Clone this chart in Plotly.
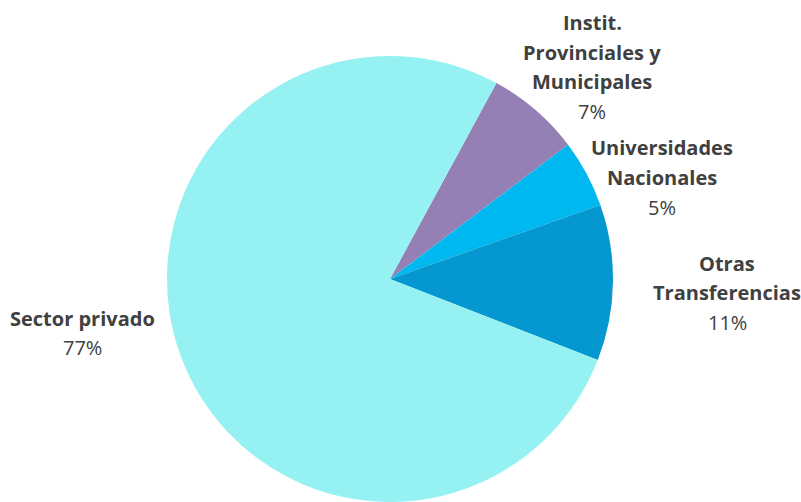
import plotly.graph_objects as go

labels = ["Instit.<br>Provinciales y<br>Municipales", "Universidades<br>Nacionales",
          "Otras<br>Transferencias", "Sector privado"]
values = [6.8, 4.9, 11.3, 77.0]
colors = ["#9580B5", "#00B8F0", "#0597CF", "#96F2F2"]

# layout: label block anchors (center x px, first-line center y px)
W, H = 801, 502
label_pos = [(592, 23), (662, 148), (727, 263), (82, 318)]
line_gap = 29.5
font_family = "Open Sans"
font_size = 20
text_color = "#404040"

fig = go.Figure(go.Pie(
    labels=labels,
    values=values,
    sort=False,
    direction="clockwise",
    rotation=28.5,
    marker=dict(colors=colors, line=dict(width=0)),
    textinfo="none",
    showlegend=False,
    domain=dict(x=[165 / W, 615 / W], y=[0, 1 - 56 / H]),
    hoverinfo="label+percent",
))

total = sum(values)
annotations = []
for lab, val, (cx, cy) in zip(labels, values, label_pos):
    lines = [f"<b>{s}</b>" for s in lab.split("<br>")]
    lines.append(f"{round(val / total * 100)}%")
    for k, txt in enumerate(lines):
        annotations.append(dict(
            x=cx / W, y=1 - (cy + k * line_gap) / H,
            xref="paper", yref="paper",
            xanchor="center", yanchor="middle",
            text=txt, showarrow=False,
            font=dict(family=font_family, size=font_size, color=text_color),
        ))

fig.update_layout(
    width=W, height=H,
    margin=dict(l=0, r=0, t=0, b=0),
    paper_bgcolor="white",
    plot_bgcolor="white",
    annotations=annotations,
)

fig.write_html("out.html", config={"displayModeBar": False},
               post_script="document.body.style.margin='0';")
